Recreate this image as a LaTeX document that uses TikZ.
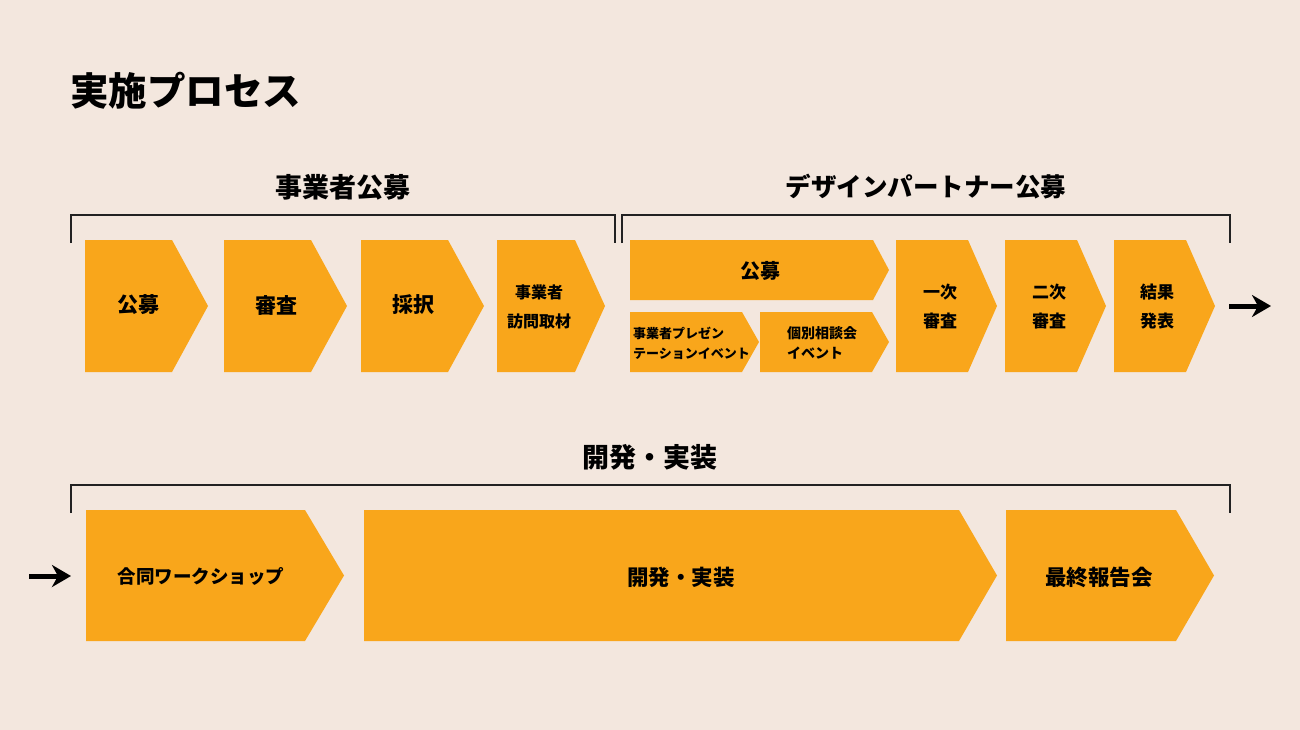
\documentclass[tikz,border=0pt]{standalone}
\usepackage{fontspec}
\setmainfont{Noto Sans CJK JP}[BoldFont={* Black}]
\usetikzlibrary{arrows.meta}
\definecolor{bg}{HTML}{F3E7DE}
\definecolor{chev}{HTML}{F9A61B}
\definecolor{brk}{HTML}{222222}
\tikzset{
  chevfill/.style={fill=chev},
  lbl/.style={font=\bfseries\fontsize{#1}{#1}\selectfont, inner sep=0pt, text=black},
  lbltwo/.style 2 args={font=\bfseries\fontsize{#1}{#2}\selectfont, inner sep=0pt, align=center, text=black},
  lblleft/.style 2 args={font=\bfseries\fontsize{#1}{#2}\selectfont, inner sep=0pt, align=left, text=black},
  head/.style={font=\bfseries\fontsize{#1}{#1}\selectfont, inner sep=0pt, text=black},
  bracket/.style={draw=brk, line width=1.4pt},
  flow/.style={line width=5pt, -{Stealth[length=19pt,width=22pt,inset=6pt]}},
}
% #1 name, #2 x-left, #3 y-top, #4 x-tip, #5 y-bottom, #6 depth of tip
\newcommand\chevshape[6]{%
  \fill[chevfill] (#2,#3) -- ({#4-#6},#3) -- (#4,{(#3+#5)/2}) -- ({#4-#6},#5) -- (#2,#5) -- cycle;
  \coordinate (#1) at ({(#2+#4)/2},{(#3+#5)/2});
  \coordinate (#1-w) at (#2,{(#3+#5)/2});
  \coordinate (#1-e) at (#4,{(#3+#5)/2});
}
\begin{document}
\begin{tikzpicture}[x=1pt,y=-1pt]
\fill[bg] (0,0) rectangle (1300,730);
\useasboundingbox (0,0) rectangle (1300,730);

% title
\node[head=38.5, anchor=west] (title) at (70,91) {実施プロセス};

% section headings
\node[head=27] (h1) at (343,187) {事業者公募};
\node[head=25.5] (h2) at (926,187) {デザインパートナー公募};
\node[head=27] (h3) at (650,457) {開発・実装};

% brackets
\draw[bracket] (71,243) -- (71,215) -- (615,215) -- (615,243);
\draw[bracket] (622,243) -- (622,215) -- (1230,215) -- (1230,243);
\draw[bracket] (71,513) -- (71,485) -- (1230,485) -- (1230,513);

% top row, group 1
\chevshape{a1}{85}{240}{208}{372}{36}
\chevshape{a2}{224}{240}{347}{372}{36}
\chevshape{a3}{361}{240}{484}{372}{36}
\chevshape{a4}{497}{240}{605}{372}{30}
\node[lbl=21] (ta1) at (138,305) {公募};
\node[lbl=21] (ta2) at (276,305) {審査};
\node[lbl=21] (ta3) at (413,305) {採択};
\node[lbltwo={16}{29}] (ta4) at (539,307) {事業者\\訪問取材};

% top row, group 2
\chevshape{b1}{630}{240}{889}{300}{16}
\chevshape{b2}{630}{312}{759}{372}{17}
\chevshape{b3}{760}{312}{889}{372}{17}
\chevshape{b4}{896}{240}{997}{372}{29}
\chevshape{b5}{1005}{240}{1106}{372}{29}
\chevshape{b6}{1114}{240}{1215}{372}{29}
\node[lbl=20] (tb1) at (760,271) {公募};
\node[lblleft={13}{20}, anchor=west] (tb2) at (633,343) {事業者プレゼン\\テーションイベント};
\node[lblleft={14}{20}, anchor=west] (tb3) at (787,343) {個別相談会\\イベント};
\node[lbltwo={17}{29}] (tb4) at (940,307) {一次\\審査};
\node[lbltwo={17}{29}] (tb5) at (1049,307) {二次\\審査};
\node[lbltwo={17}{29}] (tb6) at (1157,307) {結果\\発表};

\coordinate (outA) at (1229,306);
\coordinate (outB) at (1271,306);
\draw[flow] (outA) -- (outB);

% bottom row
\chevshape{c1}{86}{510}{344}{641}{39}
\chevshape{c2}{364}{510}{997}{641}{38}
\chevshape{c3}{1006}{510}{1214}{641}{38}
\node[lbl=18.5] (tc1) at (201,576) {合同ワークショップ};
\node[lbl=21.5] (tc2) at (681,577) {開発・実装};
\node[lbl=21.5] (tc3) at (1099,577) {最終報告会};

\coordinate (inA) at (29,576);
\coordinate (inB) at (71,576);
\draw[flow] (inA) -- (inB);
\end{tikzpicture}
\end{document}
